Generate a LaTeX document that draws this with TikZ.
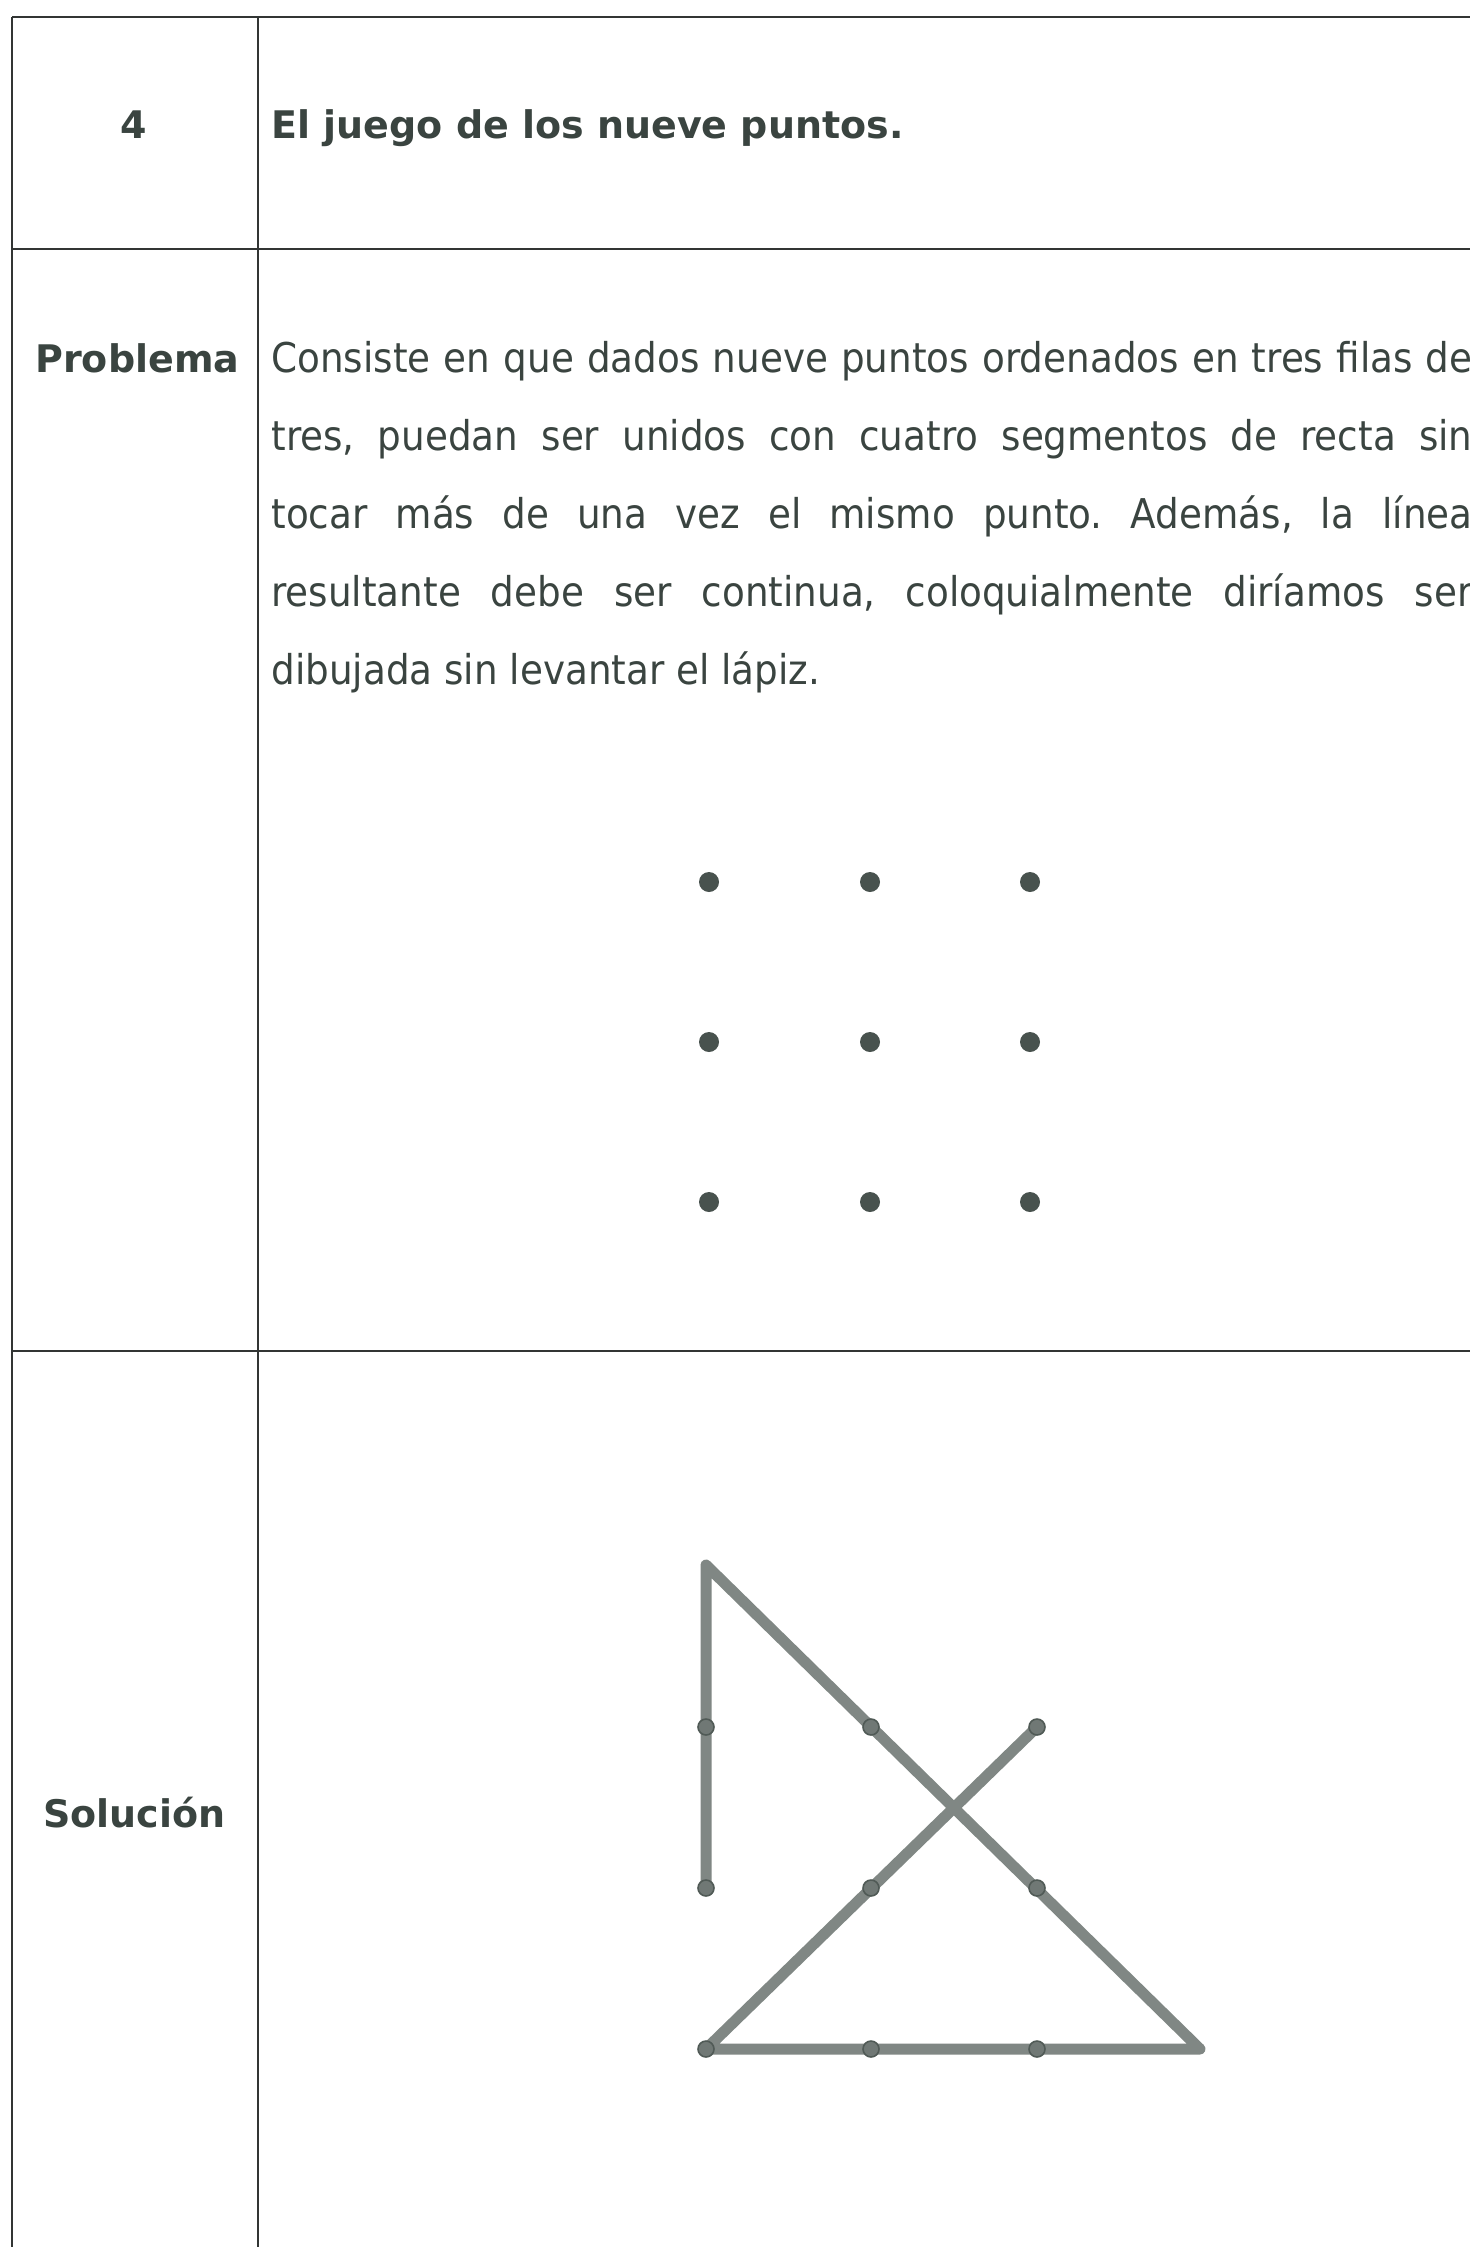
\documentclass[tikz,border=0pt]{standalone}
\usepackage{fontspec}
\setmainfont{DejaVu Sans}
\newfontfamily\regf[FakeStretch=0.91]{DejaVu Sans}
\definecolor{rulec}{RGB}{50,53,52}
\definecolor{txtc}{RGB}{58,68,64}
\definecolor{dotc}{RGB}{72,82,78}
\definecolor{solc}{RGB}{128,135,132}
\definecolor{soldot}{RGB}{112,120,117}
\definecolor{soldotd}{RGB}{80,90,86}
\tikzset{
  rule/.style={draw=rulec, line width=1.2pt},
  boldtxt/.style={inner sep=0pt, text=txtc, font=\fontsize{19}{22}\selectfont\bfseries},
  regtxt/.style={inner sep=0pt, text=txtc, font=\regf\fontsize{20.5}{24}\selectfont},
  gdot/.style={circle, fill=dotc, inner sep=0pt, minimum size=10pt},
  sdot/.style={circle, fill=soldot, draw=soldotd, line width=0.8pt, inner sep=0pt, minimum size=8pt},
  sline/.style={draw=solc, line width=5.5pt, line cap=round, line join=round}
}
\newcommand{\jline}[1]{\hbox to 600.5pt{\frenchspacing\spaceskip=\fontdimen2\font plus 1fil\relax #1}}
\begin{document}
\begin{tikzpicture}[x=0.5pt, y=-0.5pt]
\useasboundingbox (0,0) rectangle (1469,2247);
\fill[white] (0,0) rectangle (1469,2247);
% table rules
\coordinate (tl) at (12,17);
\coordinate (tr) at (1490,17);
\coordinate (r1l) at (12,249);
\coordinate (r1r) at (1490,249);
\coordinate (r2l) at (12,1351);
\coordinate (r2r) at (1490,1351);
\coordinate (bl) at (12,2270);
\coordinate (dt) at (258,17);
\coordinate (db) at (258,2270);
\draw[rule] (tl) -- (tr);
\draw[rule] (r1l) -- (r1r);
\draw[rule] (r2l) -- (r2r);
\draw[rule] (tl) -- (bl);
\draw[rule] (dt) -- (db);
% header row
\node[boldtxt, anchor=base] (num) at (134,139) {4};
\node[boldtxt, anchor=base west] (title) at (271,139) {El juego de los nueve puntos.};
% problem row
\node[boldtxt, anchor=base west] (prob) at (35,372) {Problema};
\node[regtxt, anchor=base west] (l1) at (271,372) {\jline{Consiste en que dados nueve puntos ordenados en tres filas de}};
\node[regtxt, anchor=base west] (l2) at (271,450) {\jline{tres, puedan ser unidos con cuatro segmentos de recta sin}};
\node[regtxt, anchor=base west] (l3) at (271,528) {\jline{tocar más de una vez el mismo punto. Además, la línea}};
\node[regtxt, anchor=base west] (l4) at (271,606) {\jline{resultante debe ser continua, coloquialmente diríamos ser}};
\node[regtxt, anchor=base west] (l5) at (271,684) {dibujada sin levantar el lápiz.};
% nine dots
\foreach \r/\y in {1/882,2/1042,3/1202}{
  \foreach \c/\x in {1/709,2/870,3/1030}{
    \node[gdot] (g\r\c) at (\x,\y) {};
  }
}
% solution row
\node[boldtxt, anchor=base west] (sol) at (43,1827) {Solución};
\foreach \r/\y in {1/1727,2/1888,3/2049}{
  \foreach \c/\x in {1/706,2/871,3/1037}{
    \coordinate (p\r\c) at (\x,\y);
  }
}
\coordinate (ptop) at (706,1565);
\coordinate (pright) at (1200,2049);
\draw[sline] (p21) -- (ptop) -- (pright) -- (p31) -- (p13);
\foreach \r in {1,2,3}{
  \foreach \c in {1,2,3}{
    \node[sdot] (s\r\c) at (p\r\c) {};
  }
}
\end{tikzpicture}
\end{document}
